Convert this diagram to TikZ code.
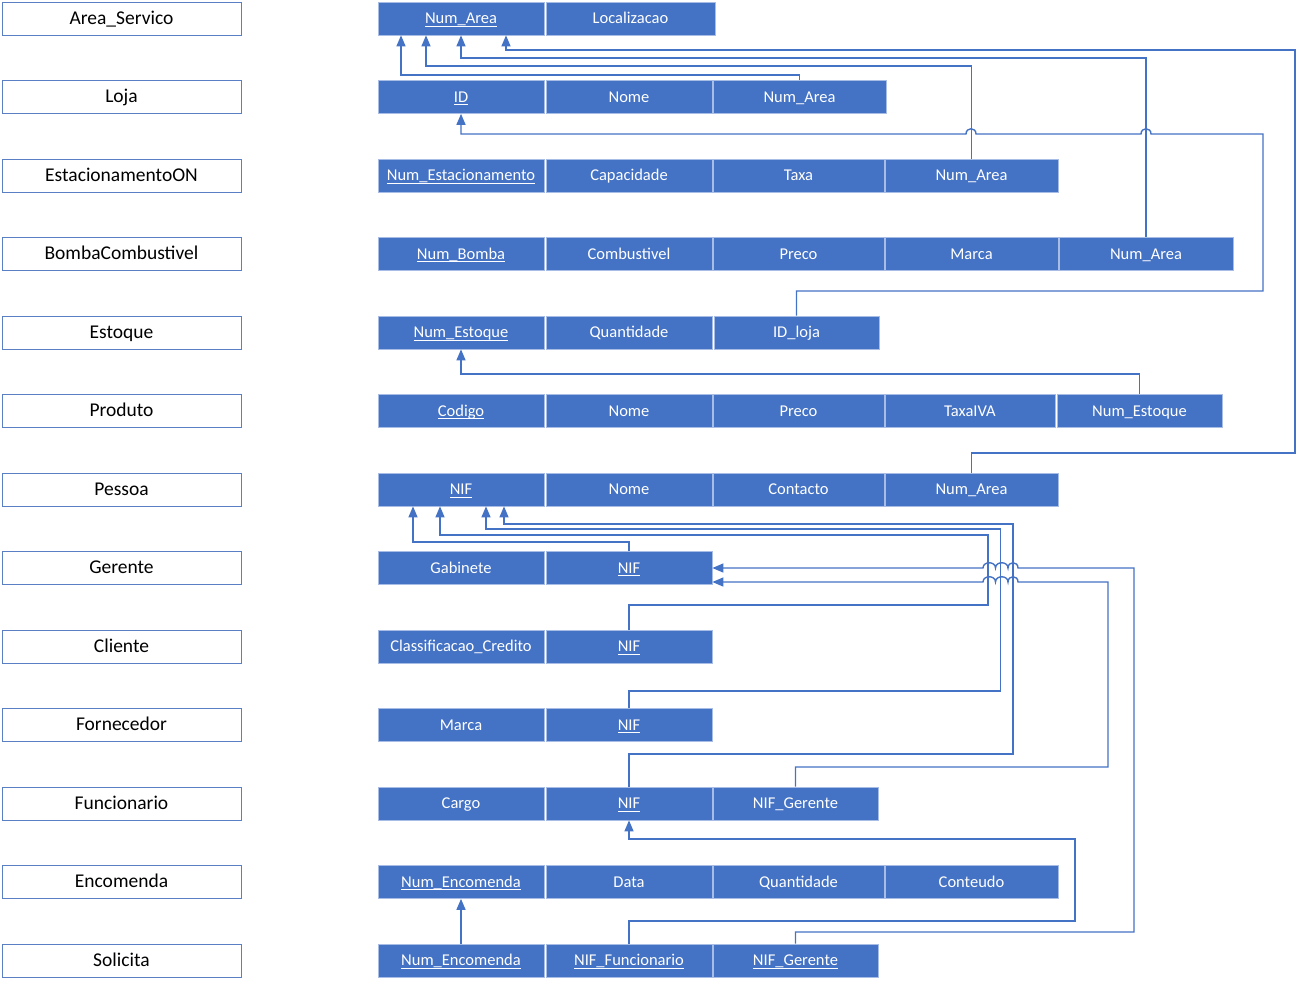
\documentclass[tikz,border=0pt]{standalone}
\usepackage{fontspec}
\setmainfont{Carlito}
\usetikzlibrary{arrows.meta}
\definecolor{cellc}{HTML}{4472C4}
\definecolor{linec}{HTML}{4472C4}
\definecolor{entc}{HTML}{5B7FC4}
\definecolor{sepc}{HTML}{A8BDE6}
\newcommand{\ulk}[1]{\setbox0\hbox{#1}\rlap{\rule[-2.8pt]{\wd0}{0.9pt}}#1}
\begin{document}
\begin{tikzpicture}[x=1pt,y=-1pt,
  ent/.style={draw=entc, fill=white, line width=1pt, minimum width=239pt, minimum height=33pt, inner sep=0pt, text height=16pt, text depth=4.5pt, font=\fontsize{19.5}{22}\selectfont},
  cell/.style={fill=cellc, draw=sepc, line width=0.7pt, text=white, minimum height=33pt, inner sep=0pt, text height=14.5pt, text depth=4pt, font=\fontsize{16.5}{19}\selectfont},
  conn/.style={draw=linec, line width=1.4pt},
  arr/.style={conn, -{Triangle[length=11pt,width=9pt]}}]
\useasboundingbox (0,0) rectangle (1297,983);
% entities
\node[ent] (e0) at (121.5,18.5) {Area\_Servico};
\node[ent] (e1) at (121.5,97) {Loja};
\node[ent] (e2) at (121.5,175.5) {EstacionamentoON};
\node[ent] (e3) at (121.5,254) {BombaCombustivel};
\node[ent] (e4) at (121.5,332.5) {Estoque};
\node[ent] (e5) at (121.5,411) {Produto};
\node[ent] (e6) at (121.5,489.5) {Pessoa};
\node[ent] (e7) at (121.5,568) {Gerente};
\node[ent] (e8) at (121.5,646.5) {Cliente};
\node[ent] (e9) at (121.5,725) {Fornecedor};
\node[ent] (e10) at (121.5,803.5) {Funcionario};
\node[ent] (e11) at (121.5,882) {Encomenda};
\node[ent] (e12) at (121.5,960.5) {Solicita};
% Area_Servico
\node[cell,minimum width=166pt] (as1) at (461,18.5) {\ulk{Num\_Area}};
\node[cell,minimum width=169pt] (as2) at (630.5,18.5) {Localizacao};
% Loja
\node[cell,minimum width=166pt] (lj1) at (461,97) {\ulk{ID}};
\node[cell,minimum width=166pt] (lj2) at (629,97) {Nome};
\node[cell,minimum width=173pt] (lj3) at (799.5,97) {Num\_Area};
% EstacionamentoON
\node[cell,minimum width=166pt] (es1) at (461,175.5) {\ulk{Num\_Estacionamento}};
\node[cell,minimum width=166pt] (es2) at (629,175.5) {Capacidade};
\node[cell,minimum width=171pt] (es3) at (798.5,175.5) {Taxa};
\node[cell,minimum width=173pt] (es4) at (971.5,175.5) {Num\_Area};
% BombaCombustivel
\node[cell,minimum width=166pt] (bc1) at (461,254) {\ulk{Num\_Bomba}};
\node[cell,minimum width=166pt] (bc2) at (629,254) {Combustivel};
\node[cell,minimum width=171pt] (bc3) at (798.5,254) {Preco};
\node[cell,minimum width=173pt] (bc4) at (971.5,254) {Marca};
\node[cell,minimum width=174pt] (bc5) at (1146,254) {Num\_Area};
% Estoque
\node[cell,minimum width=166pt] (et1) at (461,332.5) {\ulk{Num\_Estoque}};
\node[cell,minimum width=166pt] (et2) at (629,332.5) {Quantidade};
\node[cell,minimum width=165pt] (et3) at (796.5,332.5) {ID\_loja};
% Produto
\node[cell,minimum width=166pt] (pr1) at (461,411) {\ulk{Codigo}};
\node[cell,minimum width=166pt] (pr2) at (629,411) {Nome};
\node[cell,minimum width=171pt] (pr3) at (798.5,411) {Preco};
\node[cell,minimum width=170pt] (pr4) at (970,411) {TaxaIVA};
\node[cell,minimum width=165pt] (pr5) at (1139.5,411) {Num\_Estoque};
% Pessoa
\node[cell,minimum width=166pt] (pe1) at (461,489.5) {\ulk{NIF}};
\node[cell,minimum width=166pt] (pe2) at (629,489.5) {Nome};
\node[cell,minimum width=171pt] (pe3) at (798.5,489.5) {Contacto};
\node[cell,minimum width=173pt] (pe4) at (971.5,489.5) {Num\_Area};
% Gerente
\node[cell,minimum width=166pt] (ge1) at (461,568) {Gabinete};
\node[cell,minimum width=166pt] (ge2) at (629,568) {\ulk{NIF}};
% Cliente
\node[cell,minimum width=166pt] (cl1) at (461,646.5) {Classificacao\_Credito};
\node[cell,minimum width=166pt] (cl2) at (629,646.5) {\ulk{NIF}};
% Fornecedor
\node[cell,minimum width=166pt] (fo1) at (461,725) {Marca};
\node[cell,minimum width=166pt] (fo2) at (629,725) {\ulk{NIF}};
% Funcionario
\node[cell,minimum width=166pt] (fu1) at (461,803.5) {Cargo};
\node[cell,minimum width=166pt] (fu2) at (629,803.5) {\ulk{NIF}};
\node[cell,minimum width=165pt] (fu3) at (795.5,803.5) {NIF\_Gerente};
% Encomenda
\node[cell,minimum width=166pt] (en1) at (461,882) {\ulk{Num\_Encomenda}};
\node[cell,minimum width=166pt] (en2) at (629,882) {Data};
\node[cell,minimum width=171pt] (en3) at (798.5,882) {Quantidade};
\node[cell,minimum width=173pt] (en4) at (971.5,882) {Conteudo};
% Solicita
\node[cell,minimum width=166pt] (so1) at (461,960.5) {\ulk{Num\_Encomenda}};
\node[cell,minimum width=166pt] (so2) at (629,960.5) {\ulk{NIF\_Funcionario}};
\node[cell,minimum width=165pt] (so3) at (795.5,960.5) {\ulk{NIF\_Gerente}};
% connectors to Area_Servico
\draw[arr] (lj3.north) |- (401,75) -- ([xshift=-60pt]as1.south);
\draw[arr] (es4.north) |- (426,66) -- ([xshift=-35pt]as1.south);
\draw[arr] (bc5.north) |- (461,58) -- (as1.south);
\draw[arr] (pe4.north) |- (1295,453) |- (506,50) -- ([xshift=45pt]as1.south);
% Estoque.ID_loja -> Loja.ID
\draw[arr] (et3.north) |- (1263,291) |- (1151,134)
  .. controls (1151,127) and (1141,127) .. (1141,134) -- (976,134)
  .. controls (976,127) and (966,127) .. (966,134) -- (461,134) -- (lj1.south);
% Produto -> Estoque
\draw[arr] (pr5.north) |- (461,374) -- (et1.south);
% into Pessoa.NIF
\draw[arr] (ge2.north) |- (413,542) -- ([xshift=-48pt]pe1.south);
\draw[arr] (cl2.north) |- (988,605) |- (440,535) -- ([xshift=-21pt]pe1.south);
\draw[arr] (fo2.north) |- (1000.5,691) |- (486,529) -- ([xshift=25pt]pe1.south);
\draw[arr] (fu2.north) |- (1013,754) |- (504,524) -- ([xshift=43pt]pe1.south);
% into Gerente.NIF
\draw[arr] (so3.north) |- (1134,932) |- (1018,568)
  .. controls (1018,561) and (1008,561) .. (1008,568)
  .. controls (1008,561) and (995.5,561) .. (995.5,568)
  .. controls (995.5,561) and (983,561) .. (983,568) -- (ge2.east);
\draw[arr] (fu3.north) |- (1108,767) |- (1018,582)
  .. controls (1018,575) and (1008,575) .. (1008,582)
  .. controls (1008,575) and (995.5,575) .. (995.5,582)
  .. controls (995.5,575) and (983,575) .. (983,582) -- ([yshift=-14pt]ge2.east);
% Solicita -> Funcionario, Encomenda
\draw[arr] (so2.north) |- (1075,921) |- (629,839) -- (fu2.south);
\draw[arr] (so1.north) -- (en1.south);
\end{tikzpicture}
\end{document}
